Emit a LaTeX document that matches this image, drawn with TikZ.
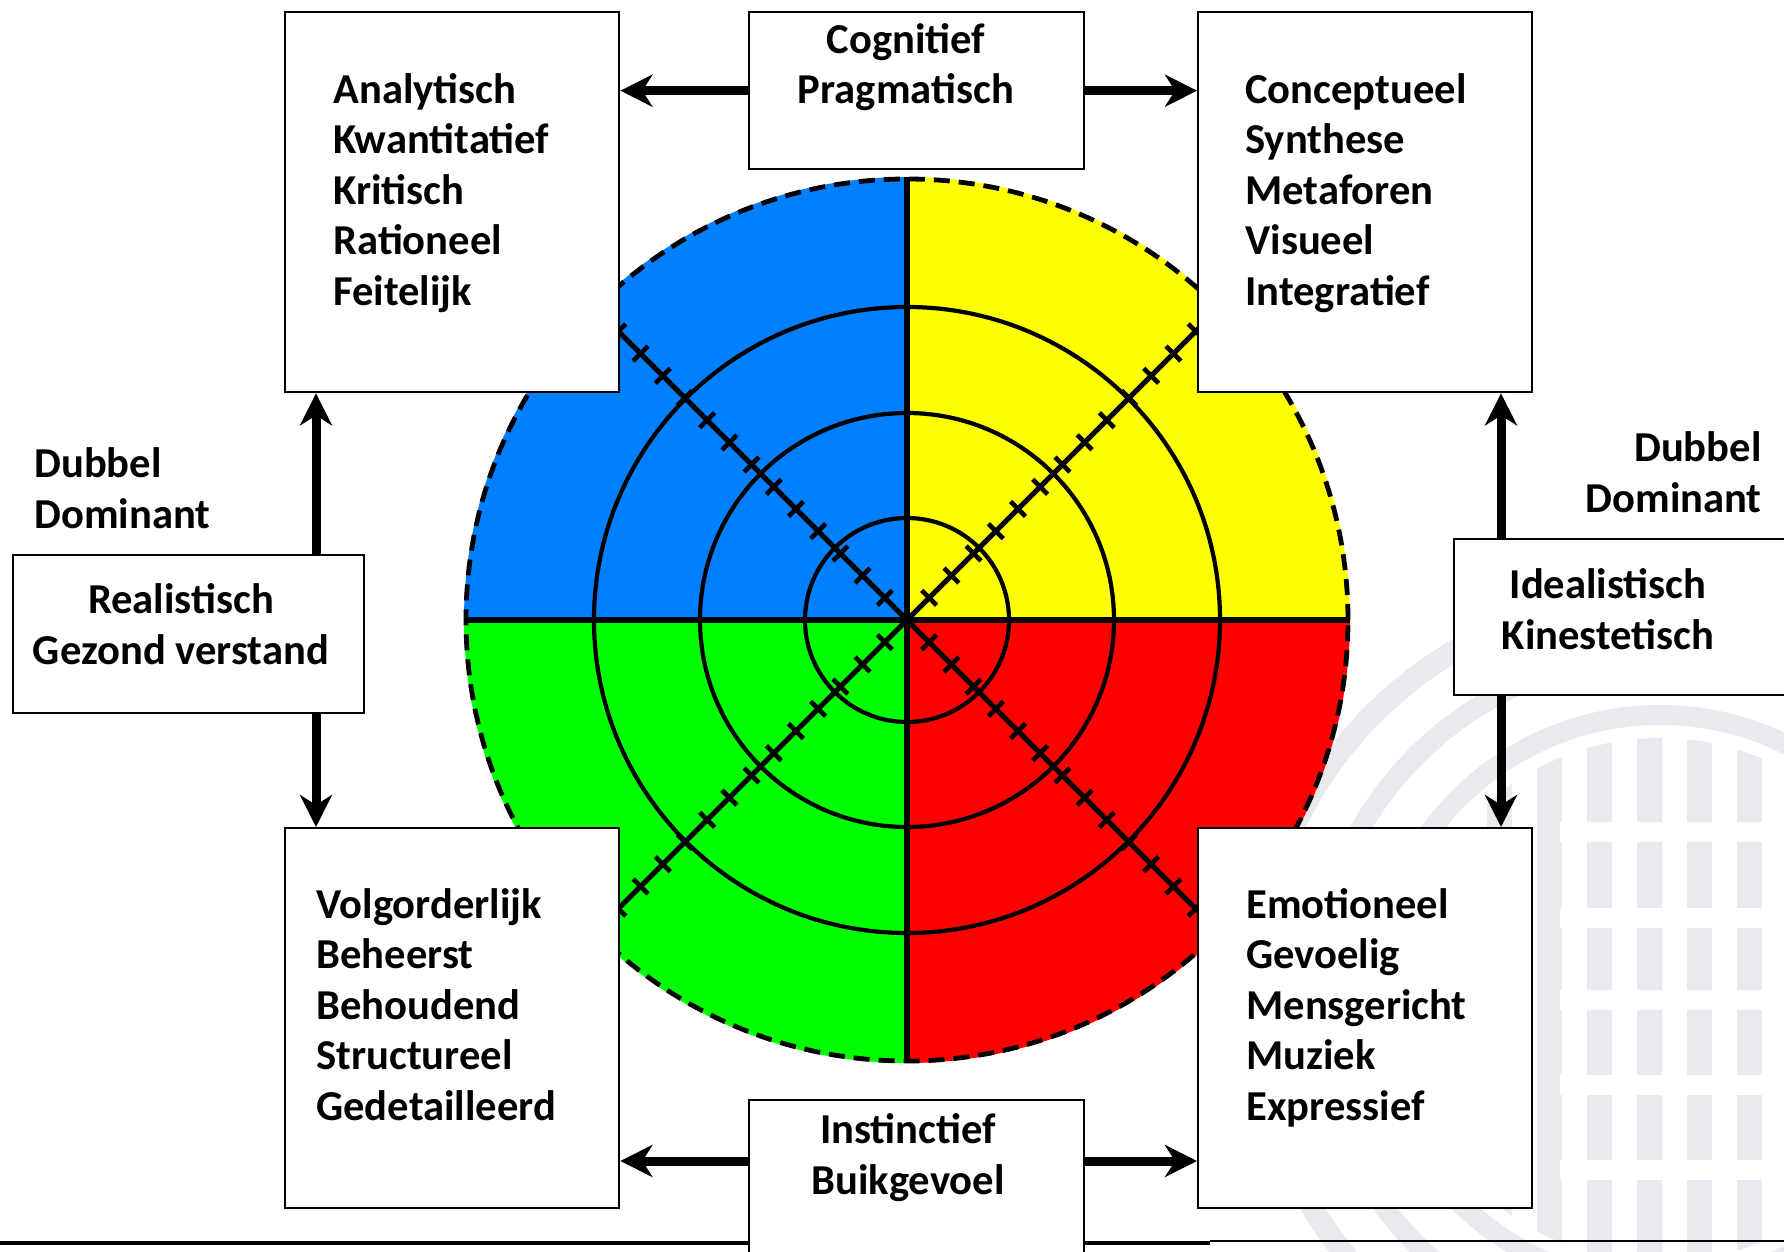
\documentclass[tikz,border=0pt]{standalone}
\usepackage{fontspec}
\setmainfont{Carlito}
\usetikzlibrary{arrows.meta,calc}

\definecolor{qblue}{RGB}{0,128,255}
\definecolor{qyellow}{RGB}{255,255,0}
\definecolor{qgreen}{RGB}{0,255,0}
\definecolor{qred}{RGB}{255,0,0}
\definecolor{wmark}{RGB}{233,233,240}

\tikzset{
  panel/.style={draw=black, fill=white, line width=1.2pt, inner sep=0pt, anchor=north west},
  bigpanel/.style={panel, minimum width=167pt, minimum height=190pt},
  midpanel/.style={panel, minimum width=167.5pt, minimum height=78.5pt},
  words/.style={font=\bfseries\fontsize{21.3}{25.2}\selectfont, inner sep=0pt},
  link/.style={line width=4.5pt, -{Stealth[length=16pt,width=16pt,inset=5pt]}},
  ring/.style={line width=2.1pt},
  midline/.style={line width=2.6pt},
  tick/.style={line width=2.3pt}
}

\begin{document}
\begin{tikzpicture}[x=0.5pt,y=0.5pt]
  \useasboundingbox (0,0) rectangle (1784,-1252);
  \def\R{443}
  \def\dt{31.4}
  \coordinate (ctr) at (907,-620);

  % watermark behind everything
  \begin{scope}
    \clip (0,0) rectangle (1784,-1252);
    \coordinate (wm) at (1660,-1000);
    \foreach \rr/\ww in {405/11pt,345/10pt,285/10pt}
      \draw[wmark, line width=\ww] (wm) circle[radius=\rr];
    \begin{scope}
      \clip (wm) circle[radius=262];
      \foreach \xx in {1487,1537,1587,1637,1687,1737}
        \fill[wmark] (\xx,-600) rectangle ++(25,-700);
      \foreach \yy in {822,908,990,1075,1160}
        \fill[white] (1560,-\yy) rectangle ++(250,-20);
    \end{scope}
  \end{scope}

  \draw[line width=2pt] (0,-1243) -- (1210,-1243);
  \draw[line width=1.3pt] (1210,-1241) -- (1784,-1241);

  % quadrants
  \foreach \a/\c in {0/qyellow,90/qblue,180/qgreen,270/qred}
    \fill[\c] (ctr) -- ++(\a:\R) arc[start angle=\a, delta angle=90, radius=\R] -- cycle;
  \foreach \rr in {102,207,313}
    \draw[ring] (ctr) circle[radius=\rr];
  \draw[midline] ($(ctr)+(0,\R)$) -- ($(ctr)+(0,-\R)$);
  \draw[midline] ($(ctr)+(-\R,0)$) -- ($(ctr)+(\R,0)$);
  \foreach \a in {45,135,225,315}{
    \draw[midline] (ctr) -- ++(\a:\R);
    \foreach \k in {1,...,14}
      \draw[tick] ($(ctr)+(\a:\k*\dt)$) ++(\a+90:10.5) -- ++(\a-90:21);
  }
  \draw[line width=2.4pt, dash pattern=on 8pt off 4.5pt] (ctr) circle[radius=\R-2];

  % boxes
  \node[bigpanel] (tl) at (284,-11) {};
  \node[bigpanel] (tr) at (1197,-11) {};
  \node[bigpanel] (bl) at (284,-827) {};
  \node[bigpanel] (br) at (1197,-827) {};
  \node[midpanel] (cog) at (748,-11) {};
  \node[panel, minimum width=167.5pt, minimum height=100pt] (inst) at (748,-1099) {};
  \node[panel, minimum width=175.5pt, minimum height=79pt] (lmid) at (12,-554) {};
  \node[panel, minimum width=180pt, minimum height=78pt] (rmid) at (1453,-538) {};

  % texts, anchored at the baseline of the last line
  \node[words, align=left, anchor=base west] (tltxt) at (333,-305)
    {Analytisch\\Kwantitatief\\Kritisch\\Rationeel\\Feitelijk};
  \node[words, align=left, anchor=base west] (trtxt) at (1245,-305)
    {Conceptueel\\Synthese\\Metaforen\\Visueel\\Integratief};
  \node[words, align=left, anchor=base west] (bltxt) at (316,-1120)
    {Volgorderlijk\\Beheerst\\Behoudend\\Structureel\\Gedetailleerd};
  \node[words, align=left, anchor=base west] (brtxt) at (1246,-1120)
    {Emotioneel\\Gevoelig\\Mensgericht\\Muziek\\Expressief};
  \node[words, align=center, anchor=base] (cogtxt) at (906,-104) {Cognitief\\Pragmatisch};
  \node[words, align=center, anchor=base] (insttxt) at (908,-1194) {Instinctief\\Buikgevoel};
  \node[words, align=center, anchor=base] (lmidtxt) at (181,-664) {Realistisch\\Gezond verstand};
  \node[words, align=center, anchor=base] (rmidtxt) at (1608,-649) {Idealistisch\\Kinestetisch};
  \node[words, align=left, anchor=base west] (dubl) at (34,-528) {Dubbel\\Dominant};
  \node[words, align=right, anchor=base east] (dubr) at (1762,-512) {Dubbel\\Dominant};

  % arrows
  \coordinate (lx) at (316,0);
  \coordinate (rx) at (1501,0);
  \coordinate (by) at (0,-1161);
  \draw[link] (cog.west) -- (tl.east |- cog.west);
  \draw[link] (cog.east) -- (tr.west |- cog.east);
  \draw[link] (inst.west |- by) -- (bl.east |- by);
  \draw[link] (inst.east |- by) -- (br.west |- by);
  \draw[link] (lmid.north -| lx) -- (tl.south -| lx);
  \draw[link] (lmid.south -| lx) -- (bl.north -| lx);
  \draw[link] (rmid.north -| rx) -- (tr.south -| rx);
  \draw[link] (rmid.south -| rx) -- (br.north -| rx);
\end{tikzpicture}
\end{document}
